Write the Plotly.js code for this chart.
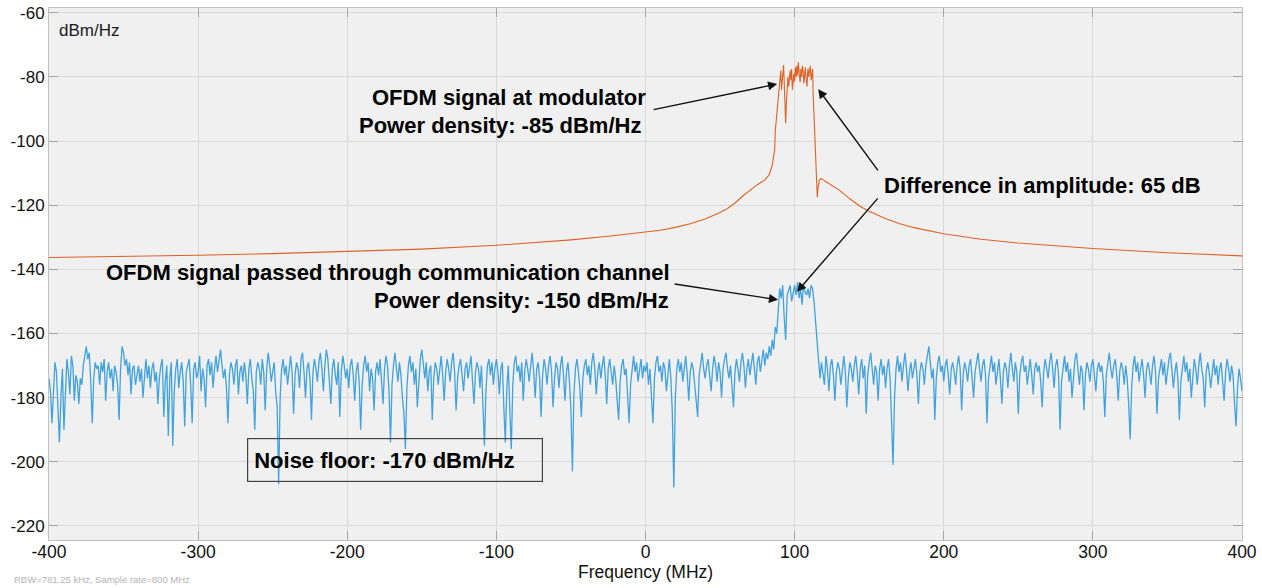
<!DOCTYPE html>
<html>
<head>
<meta charset="utf-8">
<script src="https://cdn.plot.ly/plotly-3.0.1.min.js"></script>
<style>html,body{margin:0;padding:0;background:#fff;}#chart{width:1262px;height:588px;}</style>
</head>
<body>
<div id="chart"></div>
<script>
// ---------- DATA ----------
// Channel (blue) spectrum, 1 MHz bins from -400 MHz to +400 MHz (dBm/Hz)
const channelStartMHz = -400;
const channelStepMHz = 1;
const channelPower = [
-174,-178,-188,-176,-169,-172,-183,-194,-180,-171,-190,-176,-168,-172,-179,-167,-170,-181,-173,-175,
-182,-174,-176,-170,-166,-164,-168,-166,-175,-188,-174,-169,-171,-170,-176,-169,-172,-168,-181,-172,
-169,-174,-171,-178,-170,-172,-176,-187,-171,-164,-166,-170,-168,-173,-169,-179,-171,-170,-176,-172,
-170,-175,-171,-180,-172,-168,-174,-170,-177,-171,-169,-175,-172,-182,-174,-170,-168,-186,-175,-170,
-192,-174,-169,-195,-178,-171,-168,-177,-172,-169,-175,-189,-172,-170,-168,-176,-188,-171,-169,-174,
-172,-167,-178,-171,-174,-183,-170,-168,-173,-169,-177,-171,-167,-172,-168,-165,-170,-174,-171,-177,
-188,-173,-169,-171,-176,-170,-168,-179,-172,-170,-175,-169,-173,-182,-171,-168,-174,-178,-190,-172,
-169,-171,-176,-168,-172,-184,-171,-166,-170,-175,-172,-169,-178,-183,-207,-180,-171,-168,-173,-170,
-176,-170,-167,-172,-185,-173,-169,-171,-177,-168,-166,-172,-180,-171,-169,-174,-187,-172,-168,-171,
-175,-169,-166,-171,-178,-170,-165,-168,-174,-182,-171,-168,-173,-176,-169,-186,-172,-167,-170,-174,
-171,-177,-170,-168,-173,-181,-172,-169,-175,-190,-176,-170,-167,-172,-169,-178,-171,-174,-184,-172,
-169,-173,-168,-175,-182,-171,-167,-170,-178,-194,-176,-170,-166,-171,-175,-169,-173,-180,-185,-196,
-177,-170,-167,-172,-169,-176,-171,-183,-173,-168,-165,-170,-174,-169,-178,-172,-170,-187,-174,-169,
-171,-176,-170,-167,-173,-181,-172,-168,-171,-175,-169,-166,-172,-184,-174,-170,-168,-173,-178,-171,
-169,-174,-171,-167,-175,-182,-172,-169,-171,-177,-170,-185,-195,-178,-170,-168,-173,-169,-176,-171,
-168,-172,-179,-171,-169,-183,-194,-177,-170,-184,-196,-176,-169,-167,-172,-170,-175,-169,-181,-172,
-168,-171,-175,-170,-166,-172,-180,-171,-169,-174,-186,-173,-168,-171,-176,-170,-167,-172,-183,-174,
-169,-171,-177,-170,-167,-173,-181,-172,-169,-175,-184,-203,-179,-171,-168,-172,-177,-186,-174,-170,
-168,-173,-170,-176,-169,-166,-171,-179,-172,-169,-174,-170,-167,-173,-182,-171,-168,-172,-176,-170,
-174,-181,-187,-175,-170,-168,-173,-171,-179,-188,-176,-170,-167,-172,-169,-175,-171,-168,-174,-170,
-172,-169,-176,-171,-180,-188,-174,-169,-167,-172,-170,-175,-169,-171,-178,-172,-168,-174,-185,-208,
-180,-171,-168,-172,-169,-175,-170,-167,-173,-181,-172,-169,-171,-176,-180,-186,-173,-169,-166,-171,
-174,-170,-168,-173,-178,-171,-167,-170,-175,-169,-172,-180,-171,-168,-166,-171,-174,-170,-177,-183,
-172,-168,-171,-175,-169,-166,-170,-177,-171,-168,-173,-169,-166,-171,-176,-169,-167,-172,-168,-165,
-170,-166,-168,-164,-167,-162,-165,-158,-160,-152,-146,-149,-145,-155,-162,-148,-146,-145,-150,-147,
-145,-148,-144,-149,-146,-151,-145,-147,-148,-146,-149,-145,-146,-150,-156,-163,-171,-174,-169,-172,
-176,-167,-171,-178,-170,-168,-173,-181,-172,-169,-171,-176,-170,-167,-172,-183,-174,-169,-171,-175,
-170,-167,-172,-179,-171,-168,-174,-170,-185,-173,-169,-166,-171,-176,-170,-172,-181,-171,-168,-173,
-170,-177,-171,-168,-174,-186,-201,-180,-171,-167,-172,-169,-175,-170,-166,-171,-178,-172,-169,-174,
-171,-168,-173,-182,-172,-169,-171,-176,-170,-166,-164,-169,-174,-171,-187,-174,-169,-167,-172,-170,
-175,-170,-168,-173,-179,-171,-169,-172,-176,-170,-167,-171,-184,-173,-169,-171,-175,-170,-168,-174,
-180,-172,-169,-166,-171,-175,-170,-168,-173,-188,-174,-170,-167,-172,-169,-176,-171,-168,-174,-182,
-172,-169,-171,-177,-170,-166,-171,-175,-169,-172,-185,-173,-169,-167,-172,-170,-176,-171,-168,-173,
-179,-171,-169,-172,-170,-175,-183,-172,-168,-171,-174,-169,-166,-171,-177,-170,-168,-173,-190,-175,
-170,-167,-172,-169,-175,-171,-180,-172,-168,-166,-171,-176,-170,-172,-184,-173,-169,-171,-175,-170,
-168,-173,-178,-171,-169,-172,-170,-175,-186,-173,-169,-166,-171,-174,-170,-168,-173,-181,-172,-169,
-171,-176,-170,-174,-182,-193,-177,-170,-167,-172,-169,-175,-171,-168,-173,-180,-171,-169,-172,-176,
-170,-167,-172,-185,-174,-170,-168,-173,-169,-176,-171,-168,-166,-171,-177,-172,-169,-174,-187,-175,
-170,-167,-172,-169,-175,-171,-180,-172,-168,-171,-176,-170,-166,-171,-174,-183,-172,-169,-172,-177,
-171,-168,-173,-170,-176,-171,-169,-174,-181,-172,-168,-171,-175,-170,-173,-182,-189,-177,-171,-174,
-178
];

// Modulator (orange) spectrum (MHz, dBm/Hz)
const modulatorFreq = [
-400,-350,-300,-250,-200,-150,-100,-75,-50,-25,0,10,20,30,40,50,55,60,65,70,75,80,83,85,86,86.6,87,87.5,88,88.5,
89,89.5,90,90.7,91.2,91.7,92.2,92.6,93.1,93.5,94,94.5,95,95.5,96,96.5,97,97.5,98,98.5,99,99.5,100,100.5,101,101.5,
102,102.5,103,103.7,104.2,104.7,105.2,105.7,106.2,106.7,107.2,107.7,108.3,108.7,109,109.5,110,110.5,111,111.7,112.1,
112.4,113,113.7,114.4,114.8,115.2,115.6,116,116.5,117.5,118.5,120,125,130,137,144,150,160,170,180,200,225,250,300,350,400
];
const modulatorPower = [
-136.3,-136.0,-135.6,-135.1,-134.5,-133.7,-132.5,-131.7,-130.8,-129.7,-128.5,-127.8,-126.9,-125.8,-124.3,-122.3,-121.0,-119.3,-117.2,-115.4,-113.6,-112.2,-110.5,-107.5,-104.5,-102.8,-97,-94.4,-92,-88,
-87,-82,-80,-78,-84,-81,-77,-76.3,-83,-90,-94.4,-88,-85,-80,-83,-79,-78,-81,-77.5,-84,-82,-79,-81.5,-77,-80,-76.5,
-79.5,-75.4,-78.5,-81.6,-77.5,-80,-76.5,-78,-82,-79,-77,-80.5,-83,-79,-77.3,-80,-78,-76.5,-81,-79.4,-77.5,
-85,-92.5,-100,-106,-112,-117.5,-115,-112.8,-112.2,-111.7,-111.8,-112.4,-113.9,-115.3,-118,-120.4,-121.9,-124,-125.7,-127,-128.9,-130.6,-131.8,-133.5,-134.8,-135.8
];

const xTickVals = [-400,-300,-200,-100,0,100,200,300,400];
const xTickText = ['-400','-300','-200','-100','0','100','200','300','400'];
const yTickVals = [-220,-200,-180,-160,-140,-120,-100,-80,-60];
const yTickText = ['-220','-200','-180','-160','-140','-120','-100','-80','-60'];

const xTitle = 'Frequency (MHz)';
const yUnit = 'dBm/Hz';
const footnote = 'RBW=781.25 kHz, Sample rate=800 MHz';
const labelModulator = ['OFDM signal at modulator', 'Power density: -85 dBm/Hz'];
const labelChannel = ['OFDM signal passed through communication channel', 'Power density: -150 dBm/Hz'];
const labelDiff = 'Difference in amplitude: 65 dB';
const labelNoise = 'Noise floor: -170 dBm/Hz';

// ---------- CHART ----------
const FONT = 'Liberation Sans, Arial, Helvetica, sans-serif';

const traces = [
  {
    type: 'scatter', mode: 'lines',
    x0: channelStartMHz, dx: channelStepMHz, y: channelPower,
    line: {color: '#41a2de', width: 1.3},
    hoverinfo: 'skip', showlegend: false
  },
  {
    type: 'scatter', mode: 'lines',
    x: modulatorFreq, y: modulatorPower,
    line: {color: '#de6226', width: 1.1},
    hoverinfo: 'skip', showlegend: false
  }
];

function arrow(xHead, yHead, xTail, yTail) {
  return {
    x: xHead, y: yHead, ax: xTail, ay: yTail,
    xref: 'x', yref: 'y', axref: 'x', ayref: 'y',
    text: '', showarrow: true, arrowhead: 2, arrowsize: 1.3, arrowwidth: 1.4,
    arrowcolor: '#111', standoff: 0, startstandoff: 0
  };
}
function label(txt, x, y, anchor, size) {
  return {
    x: x, y: y, xref: 'x', yref: 'y', text: '<b>' + txt + '</b>', showarrow: false,
    xanchor: anchor, yanchor: 'middle',
    font: {family: FONT, size: size || 22, color: '#000'}
  };
}

const annotations = [
  arrow(88.3, -82.2, 4.4, -90.3),
  arrow(115.8, -83.8, 156.6, -109.6),
  arrow(101.6, -147.0, 156.6, -117.4),
  arrow(88.9, -149.5, 18.5, -144.5),
  label(labelModulator[0], 1.4, -86.3, 'right'),
  label(labelModulator[1], -1.6, -95.0, 'right'),
  label(labelChannel[0], 17.8, -141.1, 'right'),
  label(labelChannel[1], 17.2, -149.8, 'right'),
  label(labelDiff, 158.6, -113.7, 'left'),
  {
    x: -267.2, y: -199.3, xref: 'x', yref: 'y',
    text: '<b>' + labelNoise + '</b>', showarrow: false,
    xanchor: 'left', yanchor: 'middle', align: 'left',
    width: 282, height: 30, borderpad: 6, borderwidth: 1.2, bordercolor: '#444',
    font: {family: FONT, size: 22, color: '#000'}
  },
  {
    x: 0.0067, y: 0.957, xref: 'paper', yref: 'paper', text: yUnit, showarrow: false,
    xanchor: 'left', yanchor: 'middle',
    font: {family: FONT, size: 17, color: '#1a1a1a'}
  },
  {
    x: 0.5, y: -0.0605, xref: 'paper', yref: 'paper', text: xTitle, showarrow: false,
    xanchor: 'center', yanchor: 'middle',
    font: {family: FONT, size: 17.5, color: '#111'}
  },
  {
    x: -0.031, y: -0.075, xref: 'paper', yref: 'paper', text: footnote, showarrow: false,
    xanchor: 'left', yanchor: 'middle',
    font: {family: FONT, size: 9.5, color: '#b4b4b4'}
  }
];

const axisCommon = {
  showgrid: true, gridcolor: '#d9d9d9', gridwidth: 1,
  zeroline: false,
  showline: true, linecolor: '#c2c2c2', linewidth: 1, mirror: 'ticks',
  ticks: 'inside', ticklen: 9, tickcolor: '#a6a6a6', tickwidth: 1,
  fixedrange: true
};

const layout = {
  width: 1262, height: 588,
  margin: {l: 49, r: 20, t: 8, b: 48, pad: 0},
  paper_bgcolor: '#ffffff', plot_bgcolor: '#f0f0f0',
  font: {family: FONT, color: '#1a1a1a'},
  showlegend: false,
  xaxis: Object.assign({}, axisCommon, {
    range: [-400, 400], tickmode: 'array', tickvals: xTickVals, ticktext: xTickText,
    ticklabelstandoff: -4,
    tickfont: {family: FONT, size: 17.5, color: '#111'}
  }),
  yaxis: Object.assign({}, axisCommon, {
    range: [-224.4, -58.5], tickmode: 'array', tickvals: yTickVals, ticktext: yTickText,
    tickfont: {family: FONT, size: 17, color: '#111'}
  }),
  annotations: annotations
};

Plotly.newPlot('chart', traces, layout, {staticPlot: true, displayModeBar: false});
</script>
</body>
</html>
